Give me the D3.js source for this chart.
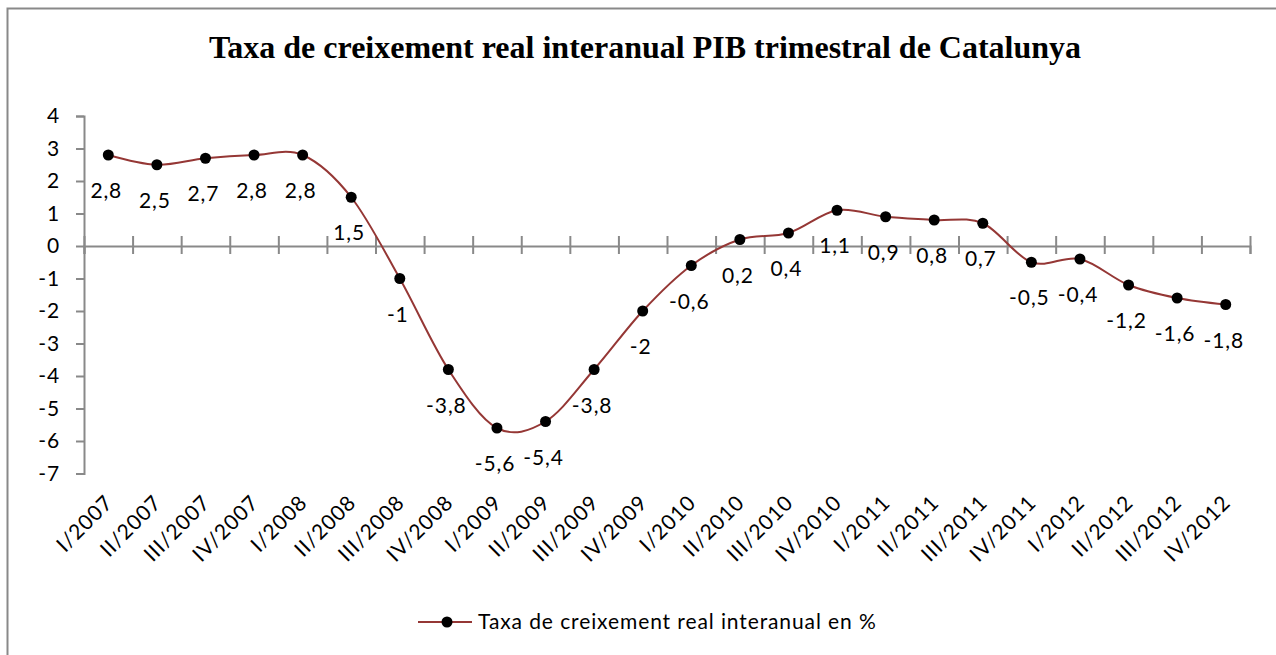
<!DOCTYPE html>
<html>
<head>
<meta charset="utf-8">
<script src="https://cdn.jsdelivr.net/npm/d3@7"></script>
<style>
  body { margin: 0; background: #fff; }
  svg { display: block; }
</style>
</head>
<body>
<div id="chart"></div>
<script>
// quarters and values (Catalunya, % interanual)
const quarters = ["I/2007", "II/2007", "III/2007", "IV/2007",
    "I/2008", "II/2008", "III/2008", "IV/2008",
    "I/2009", "II/2009", "III/2009", "IV/2009",
    "I/2010", "II/2010", "III/2010", "IV/2010",
    "I/2011", "II/2011", "III/2011", "IV/2011",
    "I/2012", "II/2012", "III/2012", "IV/2012"];
const growth = [2.8, 2.5, 2.7, 2.8, 2.8, 1.5, -1, -3.8, -5.6, -5.4, -3.8, -2,
    -0.6, 0.2, 0.4, 1.1, 0.9, 0.8, 0.7, -0.5, -0.4, -1.2, -1.6, -1.8];
const yTicks = [4, 3, 2, 1, 0, -1, -2, -3, -4, -5, -6, -7];

const titleText = "Taxa de creixement real interanual PIB trimestral de Catalunya";
const seriesName = "Taxa de creixement real interanual en %";

function main() {
    const width = 1276;
    const height = 655;
    const axisColor = "#898989";
    const lineColor = "#953735";
    const font = "Lato, 'Open Sans', sans-serif";
    const fontSize = "21px";
    const spacing = "0.9px";

    const svg = d3.select("#chart")
        .append("svg")
        .attr("width", width)
        .attr("height", height);

    // chart frame (runs off right and bottom edge in the original)
    svg.append("rect")
        .attr("x", 7.5)
        .attr("y", 8.5)
        .attr("width", width + 20)
        .attr("height", height + 20)
        .attr("fill", "none")
        .attr("stroke", axisColor)
        .attr("stroke-width", 2);

    svg.append("text")
        .attr("x", 645)
        .attr("y", 58)
        .attr("text-anchor", "middle")
        .style("font-family", "'Liberation Serif', 'Times New Roman', serif")
        .style("font-weight", "bold")
        .style("font-size", "32px")
        .text(titleText);

    const x = d3.scaleBand()
        .domain(quarters)
        .range([84, 1250]);
    const idx = d3.scaleLinear()
        .domain([0, quarters.length])
        .range([84, 1250]);
    const y = d3.scaleLinear()
        .domain([-7, 4])
        .range([473.5, 116]);
    const cx = d => x(d) + x.bandwidth() / 2;

    // y axis
    const yAxis = svg.append("g")
        .attr("transform", "translate(84,0)")
        .call(d3.axisLeft(y).tickValues(yTicks).tickSize(8).tickPadding(16)
            .tickFormat(d3.format("d")));
    yAxis.select(".domain").attr("stroke", axisColor).attr("stroke-width", 2);
    yAxis.selectAll(".tick line").attr("stroke", axisColor).attr("stroke-width", 2);
    yAxis.selectAll(".tick text")
        .style("font-family", font)
        .style("font-size", fontSize)
        .style("letter-spacing", spacing)
        .attr("fill", "#000")
        .text(d => d < 0 ? "-" + Math.abs(d) : d);

    // x axis at zero with crossing ticks
    const x0 = y(0);
    const xAxis = svg.append("g")
        .attr("transform", `translate(0,${x0})`)
        .call(d3.axisBottom(idx).ticks(quarters.length).tickSize(8).tickFormat(""));
    xAxis.select(".domain").attr("stroke", axisColor).attr("stroke-width", 2);
    xAxis.selectAll(".tick line")
        .attr("y1", -10)
        .attr("y2", 8)
        .attr("stroke", axisColor)
        .attr("stroke-width", 2);

    // category labels, rotated, under the plot
    svg.append("g")
        .selectAll("text")
        .data(quarters)
        .join("text")
        .attr("transform", d => `translate(${cx(d) + 6},${504}) rotate(-45)`)
        .attr("text-anchor", "end")
        .style("font-family", font)
        .style("font-size", fontSize)
        .style("letter-spacing", spacing)
        .text(d => d);

    // smoothed line
    const line = d3.line()
        .x((d, i) => cx(quarters[i]))
        .y(d => y(d))
        .curve(d3.curveCardinal.tension(0));
    svg.append("path")
        .datum(growth)
        .attr("d", line)
        .attr("fill", "none")
        .attr("stroke", lineColor)
        .attr("stroke-width", 2);

    svg.append("g")
        .selectAll("circle")
        .data(growth)
        .join("circle")
        .attr("cx", (d, i) => cx(quarters[i]))
        .attr("cy", d => y(d))
        .attr("r", 5.5)
        .attr("fill", "#000");

    // data labels below each point
    const fmt = v => String(v).replace(".", ",");
    svg.append("g")
        .selectAll("text")
        .data(growth)
        .join("text")
        .attr("x", (d, i) => cx(quarters[i]) - 2)
        .attr("y", d => y(d) + 43)
        .attr("text-anchor", "middle")
        .style("font-family", font)
        .style("font-size", fontSize)
        .style("letter-spacing", spacing)
        .text(d => fmt(d));

    // legend
    const lg = svg.append("g").attr("transform", "translate(418,622)");
    lg.append("line")
        .attr("x1", 0).attr("x2", 54)
        .attr("stroke", lineColor)
        .attr("stroke-width", 2);
    lg.append("circle")
        .attr("cx", 29).attr("r", 5.5)
        .attr("fill", "#000");
    lg.append("text")
        .attr("x", 60)
        .attr("y", 7)
        .style("font-family", font)
        .style("font-size", fontSize)
        .style("letter-spacing", spacing)
        .text(seriesName);
}

main();
</script>
</body>
</html>
